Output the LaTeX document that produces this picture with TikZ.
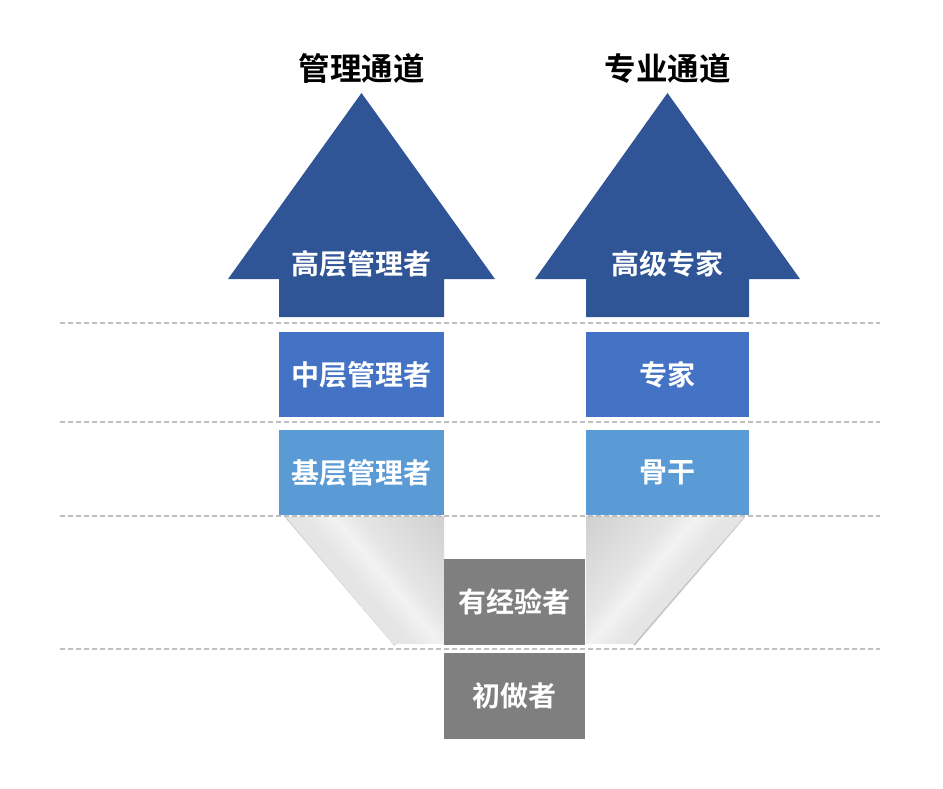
\documentclass[tikz,border=0pt]{standalone}
\usepackage{fontspec}
\setmainfont{Noto Sans CJK SC}[BoldFont={Noto Sans CJK SC Bold}]
\usetikzlibrary{positioning}

\definecolor{topblue}{HTML}{2F5597}
\definecolor{midblue}{HTML}{4472C4}
\definecolor{lowblue}{HTML}{5B9BD5}
\definecolor{stepgray}{HTML}{7F7F7F}
\definecolor{rulegray}{HTML}{BFBFBF}

\pgfdeclarehorizontalshading{foldleft}{100bp}{color(0bp)=(black!10); color(48bp)=(black!10); color(56bp)=(black!5); color(62bp)=(black!10); color(100bp)=(black!24)}
\pgfdeclarehorizontalshading{foldright}{100bp}{color(0bp)=(black!24); color(38bp)=(black!10); color(44bp)=(black!5); color(52bp)=(black!10); color(100bp)=(black!10)}

\begin{document}
\begin{tikzpicture}[
  x=1pt, y=-1pt,
  tier/.style={
    inner sep=0pt,
    minimum width=165,
    minimum height=85,
    text=white,
    font=\bfseries\fontsize{28}{28}\selectfont
  },
  stepbox/.style={
    tier,
    fill=stepgray,
    minimum width=141,
    minimum height=86
  },
  label/.style={
    text=white,
    font=\bfseries\fontsize{28}{28}\selectfont
  },
  title/.style={
    font=\bfseries\fontsize{31.5}{31.5}\selectfont
  },
  rule/.style={
    rulegray,
    line width=1.1pt,
    dash pattern=on 5pt off 3pt
  }
]
\useasboundingbox (0,0) rectangle (943,789);

% Titles
\node[title] (mgrTitle) at (361.5,68) {管理通道};
\node[title] (proTitle) at (667.5,68) {专业通道};

% Management track
\fill[topblue] (228,279) -- (361.5,93) -- (495,279) -- (444,279)
  -- (444,317) -- (279,317) -- (279,279) -- cycle;
\node[label] (mgrTop) at (361.5,264) {高层管理者};
\node[tier, fill=midblue] (mgrMid) at (361.5,374.5) {中层管理者};
\node[tier, fill=lowblue] (mgrLow) at (361.5,472.5) {基层管理者};

% Professional track
\fill[topblue] (535,279) -- (667.5,93) -- (800,279) -- (749,279)
  -- (749,317) -- (586,317) -- (586,279) -- cycle;
\node[label] (proTop) at (667.5,264) {高级专家};
\node[tier, fill=midblue, minimum width=163] (proMid) at (667.5,374.5) {专家};
\node[tier, fill=lowblue, minimum width=163] (proLow) at (667.5,472.5) {骨干};

% Folded ribbons
\draw[black!22, line width=2pt] (286,517) -- (395,645);
\shade[shading=foldleft, shading angle=40]
  (285,516) -- (444,516) -- (444,644) -- (393,644) -- cycle;
\draw[black!22, line width=2pt] (744,517) -- (634,645);
\shade[shading=foldright, shading angle=-40]
  (586,516) -- (745,516) -- (633,644) -- (586,644) -- cycle;

% Entry steps
\node[stepbox] (expert) at (514.5,602) {有经验者};
\node[stepbox] (novice) at (514.5,695.5) {初做者};

% Level rules
\foreach \ypos in {323,422,516,649}
  \draw[rule] (60,\ypos) -- (880,\ypos);

\end{tikzpicture}
\end{document}
